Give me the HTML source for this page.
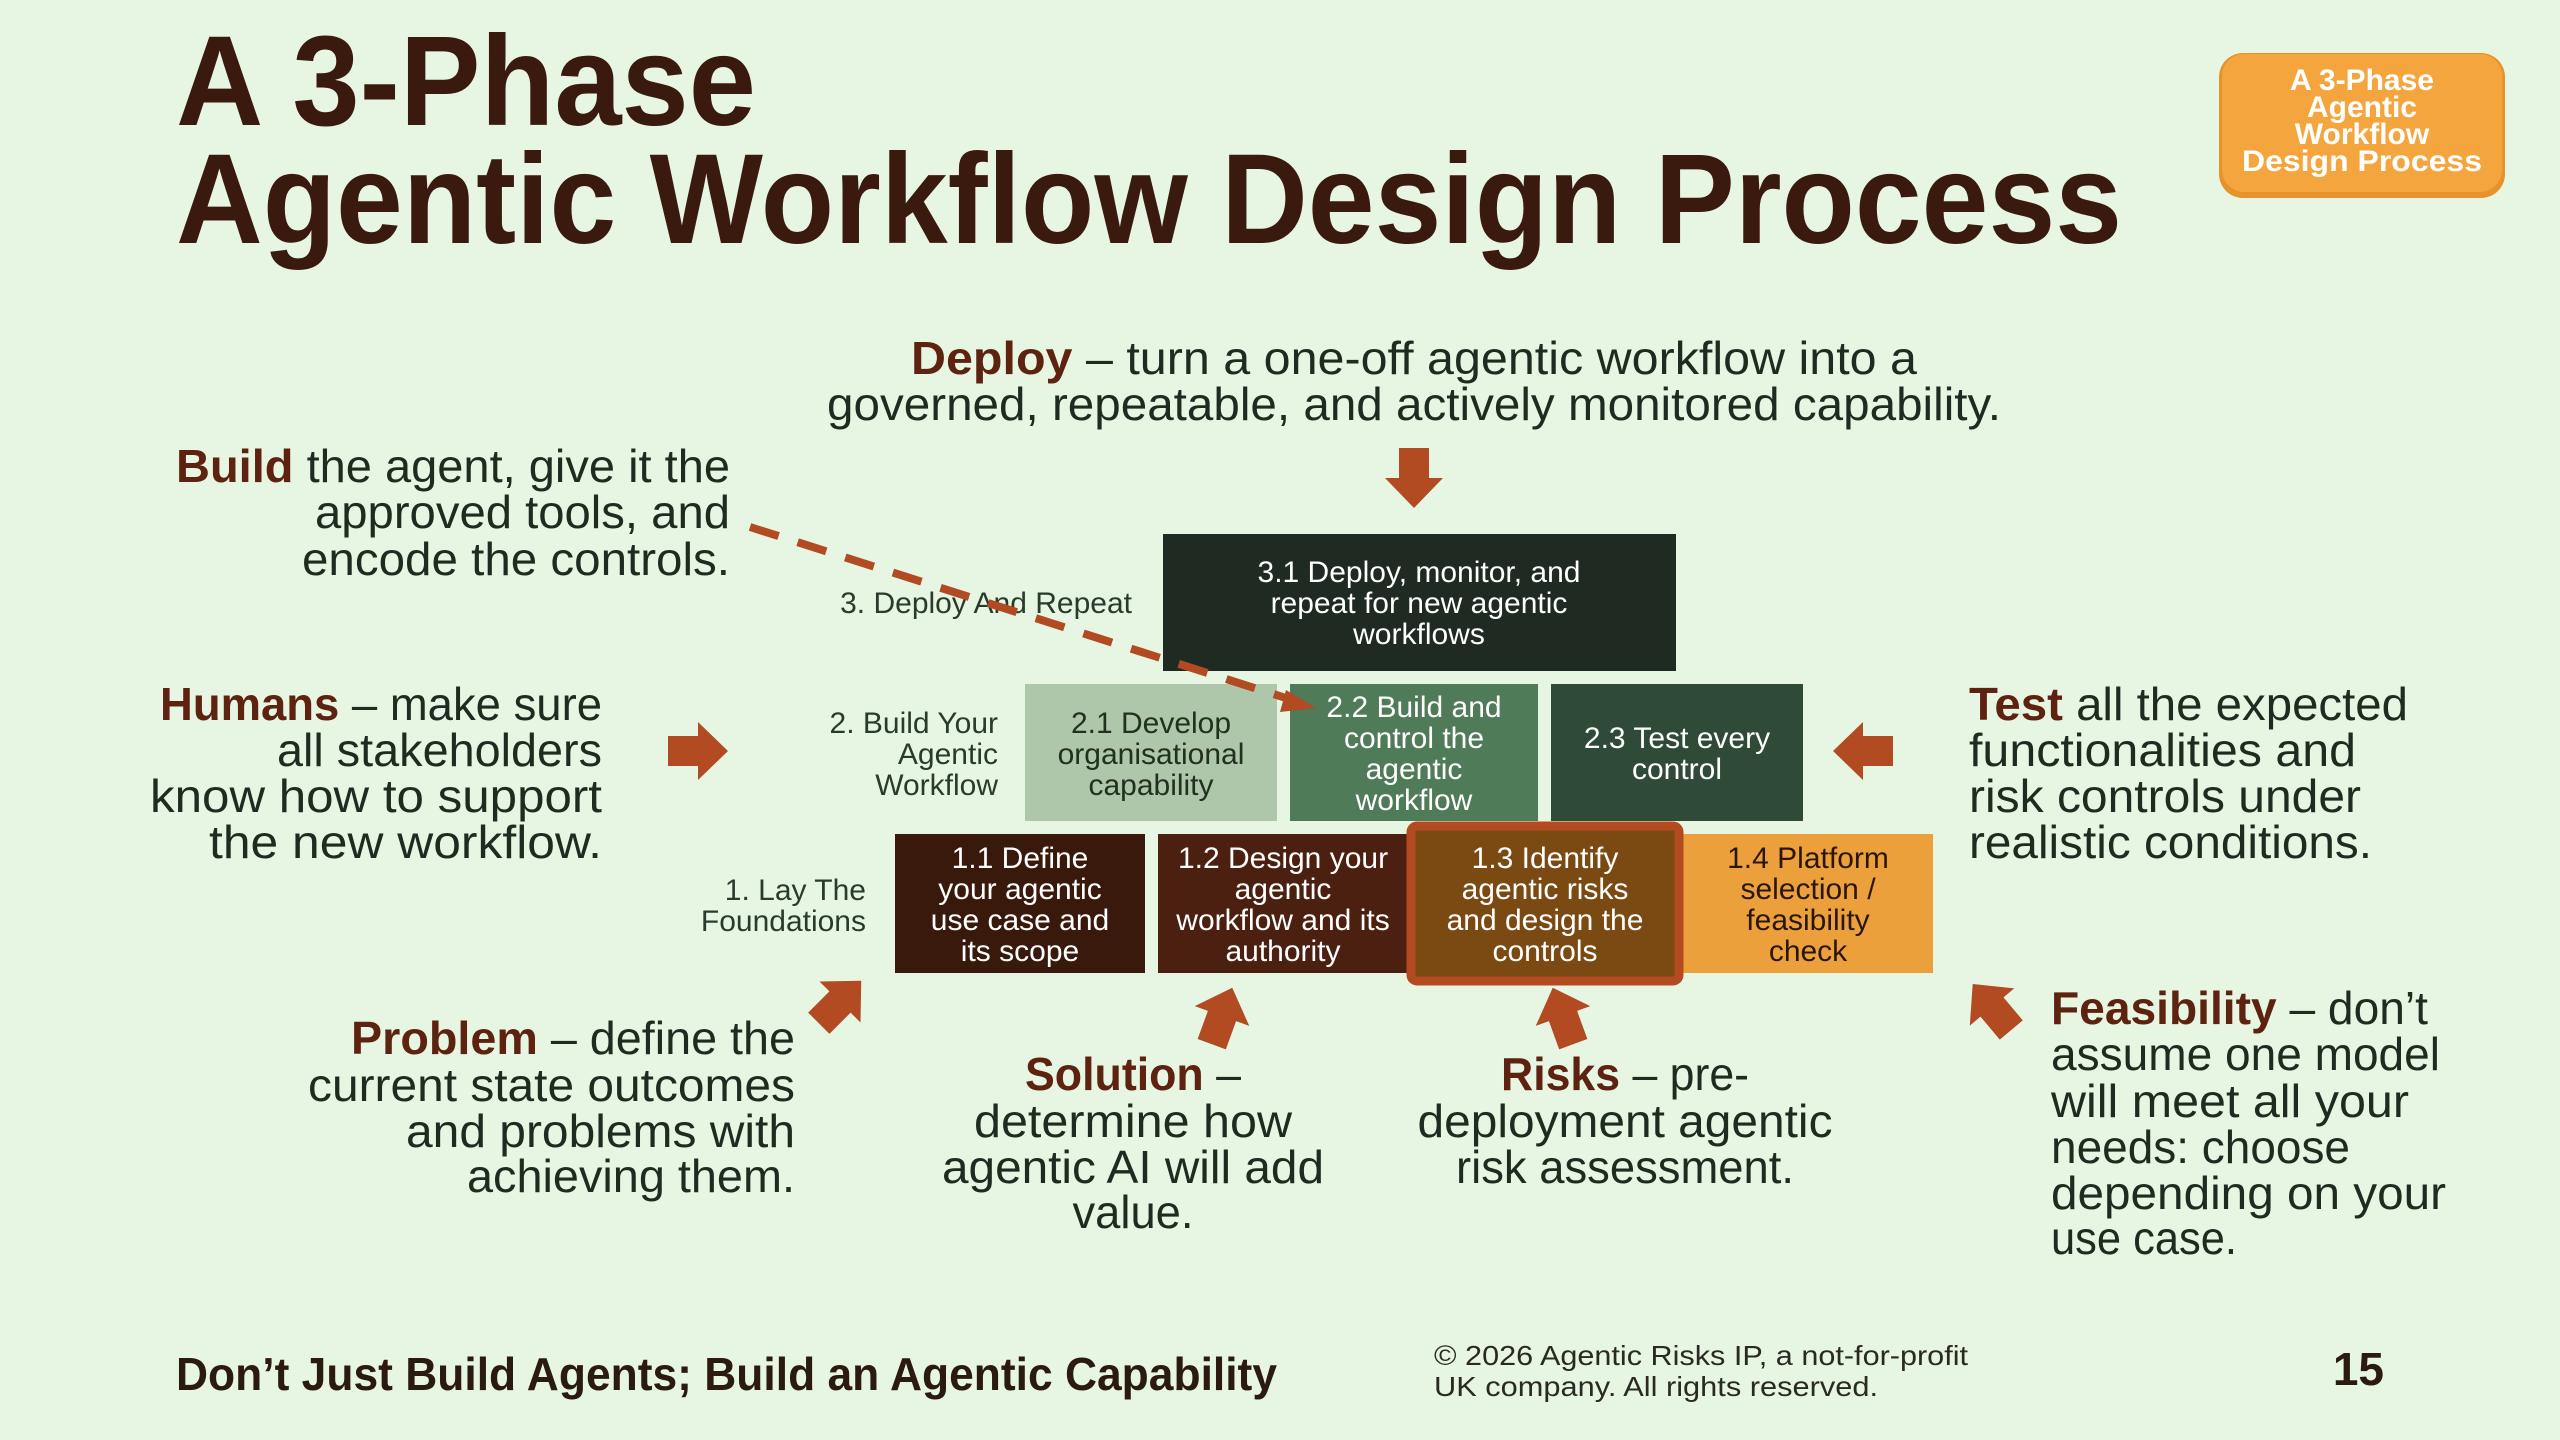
<!DOCTYPE html>
<html><head><meta charset="utf-8"><style>
html,body{margin:0;padding:0;background:#e7f6e3;}
svg{display:block;font-family:"Liberation Sans",sans-serif;}
.t{fill:#1f2b20;font-size:46px;}
.k{fill:#5e2210;font-weight:bold;}
.w{fill:#fff;font-size:30px;text-anchor:middle;}
.lb{fill:#2a3a2c;font-size:30px;text-anchor:end;}
</style></head><body>
<svg width="2560" height="1440" viewBox="0 0 2560 1440" xmlns="http://www.w3.org/2000/svg">
<rect width="2560" height="1440" fill="#e7f6e3"/>
<defs>
<path id="ar" d="M-30,-15 L0,-15 L0,-29 L30,0 L0,29 L0,15 L-30,15 Z" fill="#b24a22"/>
</defs>
<!-- title -->
<g fill="#3a1a0e" font-weight="bold" font-size="128">
<text x="176" y="125" textLength="580" lengthAdjust="spacingAndGlyphs">A 3-Phase</text>
<text x="176" y="243" textLength="1946" lengthAdjust="spacingAndGlyphs">Agentic Workflow Design Process</text>
</g>
<!-- badge -->
<rect x="2219" y="53" width="286" height="145" rx="24" fill="#e8922a"/>
<rect x="2222" y="54" width="280" height="138" rx="22" fill="#f5a53e"/>
<g fill="#fff" font-weight="bold" font-size="30" text-anchor="middle">
<text x="2362" y="90">A 3-Phase</text>
<text x="2362" y="117">Agentic</text>
<text x="2362" y="144">Workflow</text>
<text x="2362" y="171" textLength="240" lengthAdjust="spacingAndGlyphs">Design Process</text>
</g>
<!-- boxes -->
<rect x="1163" y="534" width="513" height="137" fill="#1f2a22"/>
<text class="w" x="1419" y="582">3.1 Deploy, monitor, and</text>
<text class="w" x="1419" y="613">repeat for new agentic</text>
<text class="w" x="1419" y="644">workflows</text>

<rect x="1025" y="684" width="252" height="137" fill="#aec6a9"/>
<text class="w" style="fill:#22301f" x="1151" y="733">2.1 Develop</text>
<text class="w" style="fill:#22301f" x="1151" y="764">organisational</text>
<text class="w" style="fill:#22301f" x="1151" y="795">capability</text>
<rect x="1290" y="684" width="248" height="137" fill="#4f7b59"/>
<text class="w" x="1414" y="717">2.2 Build and</text>
<text class="w" x="1414" y="748">control the</text>
<text class="w" x="1414" y="779">agentic</text>
<text class="w" x="1414" y="810">workflow</text>
<rect x="1551" y="684" width="252" height="137" fill="#2f4a37"/>
<text class="w" x="1677" y="748">2.3 Test every</text>
<text class="w" x="1677" y="779">control</text>

<rect x="895" y="834" width="250" height="139" fill="#3a190d"/>
<text class="w" x="1020" y="868">1.1 Define</text>
<text class="w" x="1020" y="899">your agentic</text>
<text class="w" x="1020" y="930">use case and</text>
<text class="w" x="1020" y="961">its scope</text>
<rect x="1158" y="834" width="250" height="139" fill="#4c2010"/>
<text class="w" x="1283" y="868">1.2 Design your</text>
<text class="w" x="1283" y="899">agentic</text>
<text class="w" x="1283" y="930">workflow and its</text>
<text class="w" x="1283" y="961">authority</text>
<rect x="1682" y="834" width="251" height="139" fill="#eba03b"/>
<text class="w" style="fill:#2a1608" x="1808" y="868">1.4 Platform</text>
<text class="w" style="fill:#2a1608" x="1808" y="899">selection /</text>
<text class="w" style="fill:#2a1608" x="1808" y="930">feasibility</text>
<text class="w" style="fill:#2a1608" x="1808" y="961">check</text>
<rect x="1411" y="826" width="268" height="155" rx="6" fill="#7a4a12" stroke="#b44a20" stroke-width="9"/>
<text class="w" x="1545" y="868">1.3 Identify</text>
<text class="w" x="1545" y="899">agentic risks</text>
<text class="w" x="1545" y="930">and design the</text>
<text class="w" x="1545" y="961">controls</text>

<!-- phase labels -->
<text class="lb" x="1132" y="613">3. Deploy And Repeat</text>
<text class="lb" x="998" y="733">2. Build Your</text>
<text class="lb" x="998" y="764">Agentic</text>
<text class="lb" x="998" y="795">Workflow</text>
<text class="lb" x="866" y="900">1. Lay The</text>
<text class="lb" x="866" y="931">Foundations</text>

<!-- dashed line -->
<line x1="750" y1="527" x2="1292" y2="700" stroke="#b24a22" stroke-width="8" stroke-dasharray="30 20"/>
<polygon points="1316,708 1286,690 1280,712" fill="#b24a22"/>

<!-- arrows -->
<use href="#ar" transform="translate(1414,478) rotate(90)"/>
<use href="#ar" transform="translate(698,751)"/>
<use href="#ar" transform="translate(1863,751) rotate(180)"/>
<use href="#ar" transform="translate(840,1002) rotate(-45)"/>
<use href="#ar" transform="translate(1222,1016) rotate(-70)"/>
<use href="#ar" transform="translate(1563,1016) rotate(-110)"/>
<use href="#ar" transform="translate(1992,1007) rotate(-130)"/>

<!-- texts -->
<g class="t" text-anchor="middle">
<text class="t" x="1414" y="374" textLength="1006" lengthAdjust="spacingAndGlyphs"><tspan class="k">Deploy</tspan> – turn a one-off agentic workflow into a</text>
<text class="t" x="1414" y="420" textLength="1174" lengthAdjust="spacingAndGlyphs">governed, repeatable, and actively monitored capability.</text>
</g>
<g class="t" text-anchor="end">
<text class="t" x="730" y="482" textLength="554" lengthAdjust="spacingAndGlyphs"><tspan class="k">Build</tspan> the agent, give it the</text>
<text class="t" x="730" y="528" textLength="415" lengthAdjust="spacingAndGlyphs">approved tools, and</text>
<text class="t" x="730" y="575" textLength="428" lengthAdjust="spacingAndGlyphs">encode the controls.</text>

<text class="t" x="602" y="720" textLength="442" lengthAdjust="spacingAndGlyphs"><tspan class="k">Humans</tspan> – make sure</text>
<text class="t" x="602" y="766" textLength="325" lengthAdjust="spacingAndGlyphs">all stakeholders</text>
<text class="t" x="602" y="812" textLength="452" lengthAdjust="spacingAndGlyphs">know how to support</text>
<text class="t" x="602" y="858" textLength="393" lengthAdjust="spacingAndGlyphs">the new workflow.</text>

<text class="t" x="795" y="1054" textLength="444" lengthAdjust="spacingAndGlyphs"><tspan class="k">Problem</tspan> – define the</text>
<text class="t" x="795" y="1101" textLength="487" lengthAdjust="spacingAndGlyphs">current state outcomes</text>
<text class="t" x="795" y="1147" textLength="389" lengthAdjust="spacingAndGlyphs">and problems with</text>
<text class="t" x="795" y="1192" textLength="328" lengthAdjust="spacingAndGlyphs">achieving them.</text>
</g>
<g text-anchor="start">
<text class="t" x="1969" y="720" textLength="439" lengthAdjust="spacingAndGlyphs"><tspan class="k">Test</tspan> all the expected</text>
<text class="t" x="1969" y="766" textLength="387" lengthAdjust="spacingAndGlyphs">functionalities and</text>
<text class="t" x="1969" y="812" textLength="392" lengthAdjust="spacingAndGlyphs">risk controls under</text>
<text class="t" x="1969" y="858" textLength="403" lengthAdjust="spacingAndGlyphs">realistic conditions.</text>

<text class="t" x="2051" y="1024" textLength="377" lengthAdjust="spacingAndGlyphs"><tspan class="k">Feasibility</tspan> – don’t</text>
<text class="t" x="2051" y="1070" textLength="389" lengthAdjust="spacingAndGlyphs">assume one model</text>
<text class="t" x="2051" y="1117" textLength="358" lengthAdjust="spacingAndGlyphs">will meet all your</text>
<text class="t" x="2051" y="1163" textLength="299" lengthAdjust="spacingAndGlyphs">needs: choose</text>
<text class="t" x="2051" y="1209" textLength="395" lengthAdjust="spacingAndGlyphs">depending on your</text>
<text class="t" x="2051" y="1254" textLength="186" lengthAdjust="spacingAndGlyphs">use case.</text>
</g>
<g text-anchor="middle">
<text class="t" x="1133" y="1090" textLength="216" lengthAdjust="spacingAndGlyphs"><tspan class="k">Solution</tspan> –</text>
<text class="t" x="1133" y="1137" textLength="318" lengthAdjust="spacingAndGlyphs">determine how</text>
<text class="t" x="1133" y="1183" textLength="382" lengthAdjust="spacingAndGlyphs">agentic AI will add</text>
<text class="t" x="1133" y="1228" textLength="121" lengthAdjust="spacingAndGlyphs">value.</text>

<text class="t" x="1625" y="1090" textLength="248" lengthAdjust="spacingAndGlyphs"><tspan class="k">Risks</tspan> – pre-</text>
<text class="t" x="1625" y="1137" textLength="415" lengthAdjust="spacingAndGlyphs">deployment agentic</text>
<text class="t" x="1625" y="1183" textLength="338" lengthAdjust="spacingAndGlyphs">risk assessment.</text>
</g>

<!-- footer -->
<text x="176" y="1390" font-size="46" font-weight="bold" fill="#2a1a10" textLength="1101" lengthAdjust="spacingAndGlyphs">Don’t Just Build Agents; Build an Agentic Capability</text>
<text x="1434" y="1365" font-size="28" fill="#2a2a22" textLength="534" lengthAdjust="spacingAndGlyphs">© 2026 Agentic Risks IP, a not-for-profit</text>
<text x="1434" y="1396" font-size="28" fill="#2a2a22" textLength="444" lengthAdjust="spacingAndGlyphs">UK company. All rights reserved.</text>
<text x="2384" y="1385" font-size="46" font-weight="bold" fill="#2a1a10" text-anchor="end">15</text>
</svg>
</body></html>
